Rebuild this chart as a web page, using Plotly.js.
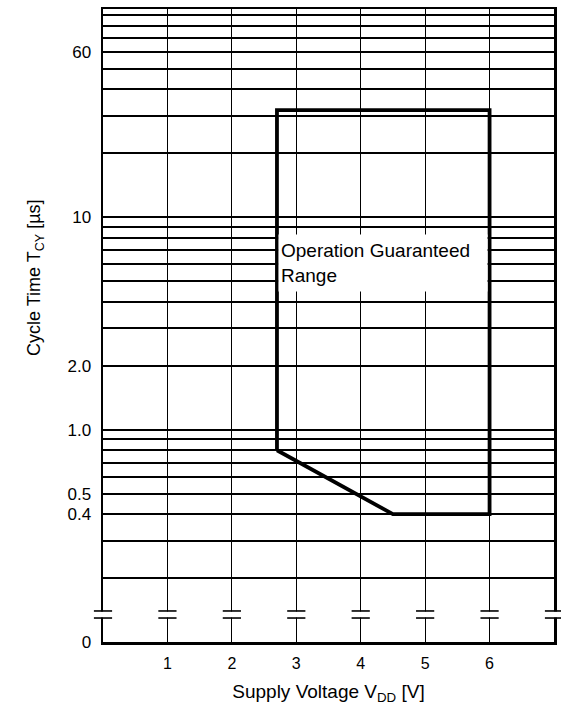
<!DOCTYPE html>
<html>
<head>
<meta charset="utf-8">
<script src="https://cdn.plot.ly/plotly-3.0.1.min.js"></script>
<style>
  html, body { margin: 0; padding: 0; background: #fff; }
  #chart { width: 561px; height: 717px; }
</style>
</head>
<body>
<div id="chart"></div>
<script>
// Operation guaranteed range boundary (Supply voltage V, cycle time µs)
const supplyVoltage = [2.7, 2.7, 6.0, 6.0, 4.5, 2.7];
const cycleTime     = [0.8, 32,  32,  0.4, 0.4, 0.8];

// X axis ticks
const xTickVals = [1, 2, 3, 4, 5, 6];
const xTickText = ['1', '2', '3', '4', '5', '6'];

// Y axis (log) labelled ticks; the bottom line stands for 0 (broken axis)
const yTickVals = [0.1, 0.4, 0.5, 1, 2, 10, 60];
const yTickText = ['0', '0.4', '0.5', '1.0', '2.0', '10', '60'];
// Unlabelled log grid lines
const yGridVals = [0.2, 0.3, 0.6, 0.7, 0.8, 0.9,
                   3, 4, 5, 6, 7, 8, 9,
                   20, 30, 40, 50, 70, 80, 90];

// Axis break marks on every vertical line
const breakX = [0, 1, 2, 3, 4, 5, 6, 7];
const breakUpper = 0.140;
const breakLower = 0.1297;
const breakMid = 0.1347;

// Label text position
const labelText = 'Operation Guaranteed<br>Range';
const labelV = 2.72;
const labelT = 6.1;

const FONT = '"Liberation Sans", Arial, Helvetica, sans-serif';

const traces = [
  {
    x: breakX, y: breakX.map(() => breakMid),
    mode: 'markers', type: 'scatter', cliponaxis: false, hoverinfo: 'skip',
    marker: { symbol: 'square', size: 6, color: '#fff', line: { width: 0 } },
    showlegend: false
  },
  {
    x: breakX, y: breakX.map(() => breakUpper),
    mode: 'markers', type: 'scatter', cliponaxis: false, hoverinfo: 'skip',
    marker: { symbol: 'line-ew', size: 13, line: { width: 1.6, color: '#000' } },
    showlegend: false
  },
  {
    x: breakX, y: breakX.map(() => breakLower),
    mode: 'markers', type: 'scatter', cliponaxis: false, hoverinfo: 'skip',
    marker: { symbol: 'line-ew', size: 13, line: { width: 1.6, color: '#000' } },
    showlegend: false
  },
  {
    x: supplyVoltage, y: cycleTime,
    mode: 'lines', type: 'scatter',
    line: { color: '#000', width: 3.8 },
    showlegend: false
  }
];

const layout = {
  width: 561, height: 717,
  margin: { l: 103, r: 7, t: 9, b: 75 },
  paper_bgcolor: '#fff', plot_bgcolor: '#fff',
  font: { family: FONT, color: '#000' },
  showlegend: false,
  xaxis: {
    range: [0, 7],
    tickvals: xTickVals, ticktext: xTickText,
    ticks: '', ticklabelstandoff: 5,
    tickfont: { size: 16, family: FONT, color: '#000' },
    showgrid: true, gridcolor: '#000', gridwidth: 1,
    zeroline: false,
    showline: true, linecolor: '#000', linewidth: 2.5, mirror: true,
    layer: 'below traces',
    title: { text: 'Supply Voltage V<sub>DD</sub> [V]', font: { size: 19, family: FONT, color: '#000' }, standoff: 14 },
    automargin: false,
    fixedrange: true
  },
  yaxis: {
    type: 'log',
    range: [-1, 1.981],
    tickvals: yTickVals, ticktext: yTickText,
    ticks: '', ticklabelstandoff: 6,
    tickfont: { size: 17, family: FONT, color: '#000' },
    showgrid: true, gridcolor: '#000', gridwidth: 2,
    minor: { tickvals: yGridVals, showgrid: true, gridcolor: '#000', gridwidth: 2, ticks: '' },
    zeroline: false,
    showline: true, linecolor: '#000', linewidth: 2.5, mirror: true,
    layer: 'below traces',
    automargin: false,
    fixedrange: true
  },
  annotations: [
    {
      text: 'Cycle Time T<sub>CY</sub> [µs]',
      xref: 'paper', yref: 'paper',
      x: (35 - 103) / 451, y: (642 - 278) / 633,
      xanchor: 'center', yanchor: 'middle',
      textangle: -90, showarrow: false,
      font: { size: 18, family: FONT, color: '#000' }
    },
    {
      text: labelText,
      xref: 'x', yref: 'y',
      x: labelV, y: Math.log10(labelT),
      xanchor: 'left', yanchor: 'middle',
      align: 'left', valign: 'middle',
      width: 204, height: 52, borderpad: 2,
      bgcolor: '#fff', showarrow: false,
      font: { size: 19, family: FONT, color: '#000' }
    }
  ]
};

Plotly.newPlot('chart', traces, layout, { staticPlot: true, displayModeBar: false });
</script>
</body>
</html>
